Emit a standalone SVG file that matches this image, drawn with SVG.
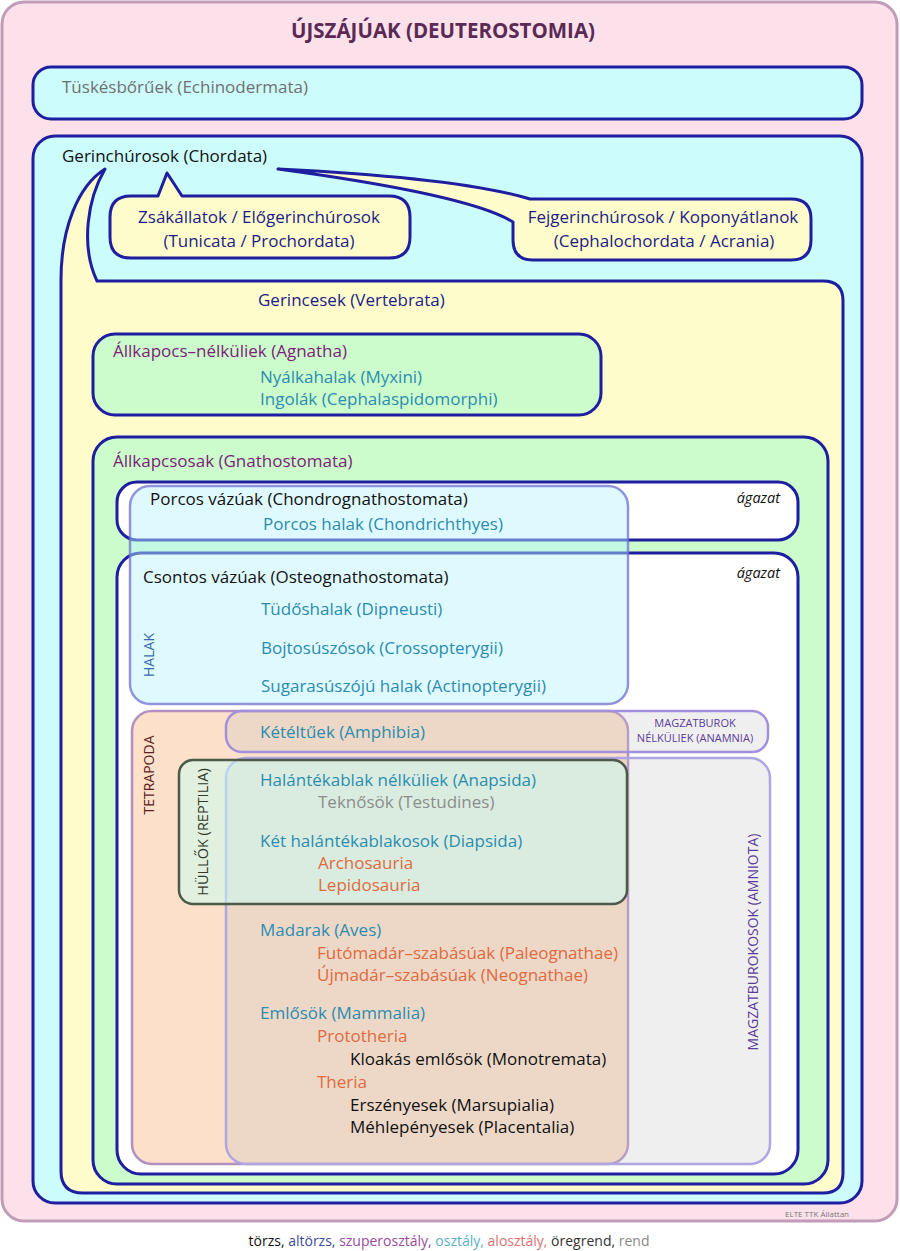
<svg xmlns="http://www.w3.org/2000/svg" width="900" height="1251" viewBox="0 0 900 1251">
<style>
text { font-family: "Open Sans", "Noto Sans", "Liberation Sans", sans-serif; }
.lbl { font-size: 17px; }
.blk { fill: #111111; }
.teal { fill: #2b8cb0; }
.purple { fill: #7b1f78; }
.navy { fill: #1c1c86; }
.orange { fill: #e06a3c; }
.gray { fill: #8c8c8c; }
.ob { stroke: #1e1ea0; stroke-width: 3; }
.semi { fill: #c4c4c4; fill-opacity: 0.28; stroke-width: 2.5; }
.vert { font-size: 14px; }
.ag { font-size: 14.5px; font-style: italic; fill: #111; text-anchor: end; }
</style>

<g id="deuterostomia">
  <rect x="2" y="2" width="895" height="1219" rx="22" fill="#fce1ea" stroke="#c19cb8" stroke-width="3"/>
  <text x="443" y="38" text-anchor="middle" font-size="20.5" font-weight="bold" fill="#5a2a55">ÚJSZÁJÚAK (DEUTEROSTOMIA)</text>
  <text x="849" y="1217" text-anchor="end" font-size="8" fill="#777777">ELTE TTK Állattan</text>
</g>

<g id="echinodermata">
  <rect x="33" y="67" width="829" height="52" rx="18" fill="#ccfcfc" class="ob"/>
  <text x="62" y="93" class="lbl" fill="#707070">Tüskésbőrűek (Echinodermata)</text>
</g>

<g id="chordata">
  <rect x="33" y="136" width="829" height="1067" rx="22" fill="#ccfcfc" class="ob"/>
  <text x="62" y="162" class="lbl blk">Gerinchúrosok (Chordata)</text>
</g>

<g id="vertebrata">
  <path d="M97,281 L823,281 Q843,281 843,301 L843,1173 Q843,1193 823,1193 L83,1193 Q61,1193 61,1171 L61,280 C61,228 78,186 105,169 C88,198 80,245 97,281 Z" fill="#fffccc" class="ob" stroke-linejoin="round"/>
  <text x="258" y="306" class="lbl navy">Gerincesek (Vertebrata)</text>
</g>

<g id="tunicata">
  <path d="M131,196 L158,196 L167,173 L182,196 L389,196 Q410,196 410,217 L410,237 Q410,258 389,258 L131,258 Q110,258 110,237 L110,217 Q110,196 131,196 Z" fill="#fffccc" class="ob" stroke-linejoin="round"/>
  <text x="259" y="223" text-anchor="middle" class="lbl navy">Zsákállatok / Előgerinchúrosok</text>
  <text x="259" y="247" text-anchor="middle" class="lbl navy">(Tunicata / Prochordata)</text>
</g>

<g id="cephalochordata">
  <path d="M278,169 Q460,178 530,199 L791,199 Q811,199 811,219 L811,240 Q811,260 791,260 L533,260 Q513,260 513,240 L513,222 Q470,195 278,169 Z" fill="#fffccc" class="ob" stroke-linejoin="round"/>
  <text x="663" y="223" text-anchor="middle" class="lbl navy">Fejgerinchúrosok / Koponyátlanok</text>
  <text x="664" y="247" text-anchor="middle" class="lbl navy">(Cephalochordata / Acrania)</text>
</g>

<g id="agnatha">
  <rect x="93" y="334" width="508" height="81" rx="22" fill="#ccfccc" class="ob"/>
  <text x="113" y="357" class="lbl purple">Állkapocs–nélküliek (Agnatha)</text>
</g>
<g id="myxini"><text x="260" y="383" class="lbl teal">Nyálkahalak (Myxini)</text></g>
<g id="cephalaspidomorphi"><text x="260" y="405" class="lbl teal">Ingolák (Cephalaspidomorphi)</text></g>

<g id="gnathostomata">
  <rect x="93" y="437" width="735" height="747" rx="24" fill="#ccfccc" class="ob"/>
  <text x="113" y="467" class="lbl purple">Állkapcsosak (Gnathostomata)</text>
</g>

<g id="chondrognathostomata">
  <rect x="117" y="482" width="681" height="58" rx="20" fill="#ffffff" class="ob"/>
  <text x="780" y="503" class="ag">ágazat</text>
</g>

<g id="osteognathostomata">
  <rect x="117" y="553" width="681" height="621" rx="24" fill="#ffffff" class="ob"/>
  <text x="780" y="578" class="ag">ágazat</text>
</g>

<g id="tetrapoda">
  <rect x="132" y="711" width="496" height="453" rx="20" fill="#fde0c9" stroke="#b38fc2" stroke-width="2.5"/>
  <text transform="translate(154,775) rotate(-90)" text-anchor="middle" class="vert" fill="#5a1e1e">TETRAPODA</text>
</g>

<g id="anamnia">
  <rect x="226" y="711" width="542" height="41" rx="16" class="semi" stroke="#a390dc"/>
  <text x="695" y="727" text-anchor="middle" font-size="11" fill="#5a3c9c">MAGZATBUROK</text>
  <text x="695" y="742" text-anchor="middle" font-size="11" fill="#5a3c9c">NÉLKÜLIEK (ANAMNIA)</text>
</g>

<g id="amniota">
  <rect x="226" y="758" width="544" height="406" rx="20" class="semi" stroke="#ada6e2"/>
  <text transform="translate(758,942) rotate(-90)" text-anchor="middle" class="vert" fill="#5a3c9c">MAGZATBUROKOSOK (AMNIOTA)</text>
</g>

<g id="reptilia">
  <rect x="179" y="760" width="448" height="144" rx="14" fill="#c8fff8" fill-opacity="0.5" stroke="#4d5a4a" stroke-width="2.5"/>
  <text transform="translate(208,832) rotate(-90)" text-anchor="middle" font-size="14.5" fill="#333a2a">HÜLLŐK (REPTILIA)</text>
</g>

<g id="halak">
  <rect x="130" y="486" width="498" height="218" rx="20" fill="#b8f4ff" fill-opacity="0.45" stroke="#7070d0" stroke-opacity="0.75" stroke-width="2.5"/>
  <text transform="translate(154,655) rotate(-90)" text-anchor="middle" font-size="14" fill="#3a6aa8">HALAK</text>
</g>

<g id="chondrognathostomata-label"><text x="150" y="505" class="lbl blk">Porcos vázúak (Chondrognathostomata)</text></g>
<g id="chondrichthyes"><text x="263" y="530" class="lbl teal">Porcos halak (Chondrichthyes)</text></g>
<g id="osteognathostomata-label"><text x="143" y="583" class="lbl blk">Csontos vázúak (Osteognathostomata)</text></g>
<g id="dipneusti"><text x="261" y="615" class="lbl teal">Tüdőshalak (Dipneusti)</text></g>
<g id="crossopterygii"><text x="261" y="654" class="lbl teal">Bojtosúszósok (Crossopterygii)</text></g>
<g id="actinopterygii"><text x="261" y="692" class="lbl teal">Sugarasúszójú halak (Actinopterygii)</text></g>

<g id="amphibia"><text x="260" y="738" class="lbl teal">Kétéltűek (Amphibia)</text></g>
<g id="anapsida"><text x="260" y="786" class="lbl teal">Halántékablak nélküliek (Anapsida)</text></g>
<g id="testudines"><text x="318" y="808" class="lbl gray">Teknősök (Testudines)</text></g>
<g id="diapsida"><text x="260" y="847" class="lbl teal">Két halántékablakosok (Diapsida)</text></g>
<g id="archosauria"><text x="318" y="869" class="lbl orange">Archosauria</text></g>
<g id="lepidosauria"><text x="318" y="891" class="lbl orange">Lepidosauria</text></g>

<g id="aves"><text x="260" y="936" class="lbl teal">Madarak (Aves)</text></g>
<g id="paleognathae"><text x="317" y="959" class="lbl orange">Futómadár–szabásúak (Paleognathae)</text></g>
<g id="neognathae"><text x="317" y="981" class="lbl orange">Újmadár–szabásúak (Neognathae)</text></g>
<g id="mammalia"><text x="260" y="1019" class="lbl teal">Emlősök (Mammalia)</text></g>
<g id="prototheria"><text x="317" y="1042" class="lbl orange">Prototheria</text></g>
<g id="monotremata"><text x="350" y="1065" class="lbl blk">Kloakás emlősök (Monotremata)</text></g>
<g id="theria"><text x="317" y="1088" class="lbl orange">Theria</text></g>
<g id="marsupialia"><text x="350" y="1111" class="lbl blk">Erszényesek (Marsupialia)</text></g>
<g id="placentalia"><text x="350" y="1133" class="lbl blk">Méhlepényesek (Placentalia)</text></g>

<g id="connectors"></g>

<g id="legend">
  <text x="449" y="1246" text-anchor="middle" font-size="14"><tspan fill="#111111">törzs, </tspan><tspan fill="#3a4aa0">altörzs, </tspan><tspan fill="#9a4a9a">szuperosztály, </tspan><tspan fill="#5ab0c4">osztály, </tspan><tspan fill="#e07272">alosztály, </tspan><tspan fill="#333333">öregrend, </tspan><tspan fill="#888888">rend</tspan></text>
</g>
</svg>
